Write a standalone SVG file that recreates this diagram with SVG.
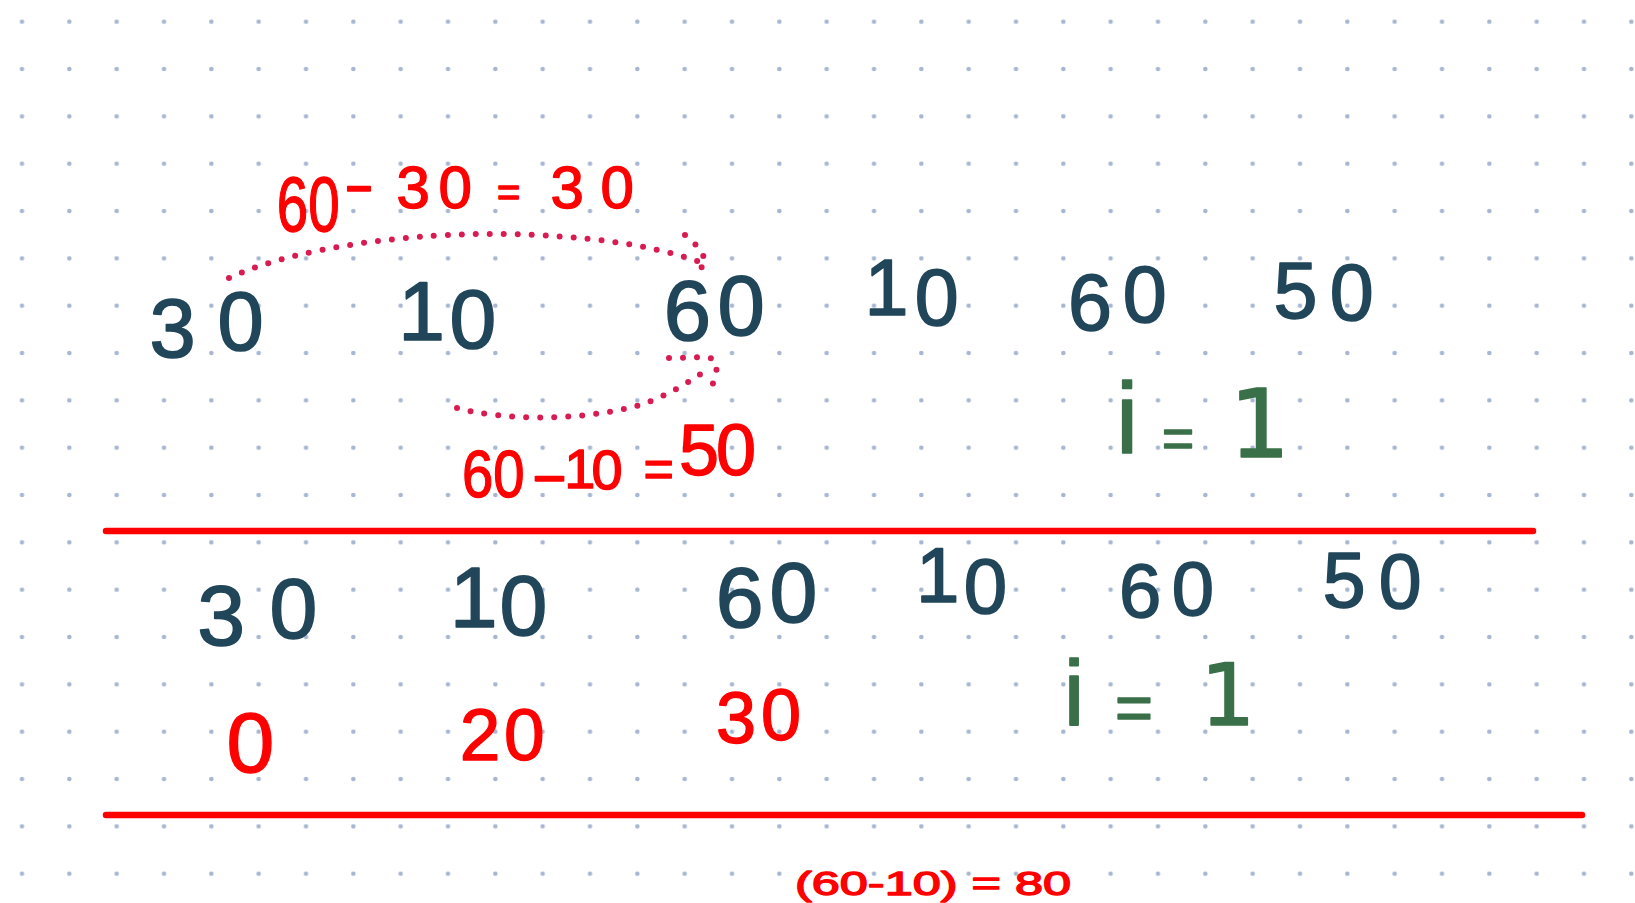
<svg xmlns="http://www.w3.org/2000/svg" width="1635" height="903" viewBox="0 0 1635 903">
<style>
text{font-family:"Liberation Sans",Arial,sans-serif;stroke-linejoin:round}
.nav{fill:#21465a;stroke:#21465a;stroke-width:1.6}
.red{fill:#ff0000;stroke:#ff0000;stroke-width:1.4}
.grn{fill:#3a7049;stroke:#3a7049;stroke-width:1.6}
.grn1{font-family:"DejaVu Sans",sans-serif}
.rule{stroke:#ff0000;stroke-width:6.5;stroke-linecap:round;fill:none}
.dots{fill:none;stroke:#d81b50;stroke-width:6;stroke-linecap:round;stroke-linejoin:round;stroke-dasharray:0 14}
</style>
<defs>
<pattern id="grid" patternUnits="userSpaceOnUse" x="0" y="0" width="47.333" height="47.333">
<circle cx="22" cy="21.7" r="2.3" fill="#a7b7d1"/>
</pattern>
</defs>
<rect width="1635" height="903" fill="#ffffff"/>
<rect width="1635" height="903" fill="url(#grid)"/>

<!-- row 1 -->
<g id="r1-30"><text class="nav" font-size="83" x="149.4 217.5" y="357 350">30</text></g>
<g id="r1-10a"><text class="nav" font-size="84" x="398.2 449.5" y="340 348">10</text></g>
<g id="r1-60a"><text class="nav" font-size="85" x="663.8 717.4" y="340 335">60</text></g>
<g id="r1-10b"><text class="nav" font-size="79" x="864.6 914.7" y="315 325">10</text></g>
<g id="r1-60b"><text class="nav" font-size="79" x="1068 1122.7" y="330 322">60</text></g>
<g id="r1-50"><text class="nav" font-size="79" x="1273.6 1329.7" y="318 320">50</text></g>
<g id="r1-i">
<text class="grn" font-size="100" x="1116" y="453">i</text>
<text class="grn" font-size="55" x="1162" y="457">=</text>
<text class="grn grn1" font-size="95" x="1229.5" y="457">1</text>
</g>

<!-- labels -->
<g id="label-top">
<text class="red" font-size="78" transform="translate(279,231) scale(0.725,1)" x="-3" y="0">60</text>
<text class="red" font-size="60" transform="translate(348,204) scale(1.5,1)" x="-2.7" y="0">-</text>
<text class="red" font-size="60" x="396.4 438.5" y="208">30</text>
<text class="red" font-size="40" x="497" y="206">=</text>
<text class="red" font-size="60" x="550.4 600.5" y="208">30</text>
</g>
<g id="label-bottom">
<text class="red" font-size="67" transform="translate(464,497) scale(0.84,1)" x="-2.5" y="0">60</text>
<text class="red" font-size="60" transform="translate(536,494) scale(1.85,1)" x="-2.7" y="0">-</text>
<text class="red" font-size="56" x="564.2 591.6" y="488 489">10</text>
<text class="red" font-size="52" x="643.5" y="487">=</text>
<text class="red" font-size="72" x="678.9 716" y="475">50</text>
</g>

<g id="connectors">
<path class="dots" d="M229,278 C300,245 420,233 500,234 C580,235 650,244 700,262"/>
<path class="dots" d="M685,235 Q703,249 706,264 L694,273"/>
<path class="dots" d="M457,408 C500,420 580,422 640,405 C670,395 690,381 705,371"/>
<path class="dots" d="M669,358 L708,357 Q719,361 716,372 L712,387"/>
</g>

<g id="rule-1"><path class="rule" d="M106,531 L1533,531"/></g>

<!-- row 2 -->
<g id="r2-30"><text class="nav" font-size="86" x="197.3 269.4" y="645 638">30</text></g>
<g id="r2-10a"><text class="nav" font-size="86" x="449.7 499.4" y="627 635">10</text></g>
<g id="r2-60a"><text class="nav" font-size="86" x="715.7 769.4" y="627 622">60</text></g>
<g id="r2-10b"><text class="nav" font-size="78" x="916 963.7" y="602 613">10</text></g>
<g id="r2-60b"><text class="nav" font-size="76" x="1119.1 1171.8" y="617 615">60</text></g>
<g id="r2-50"><text class="nav" font-size="77" x="1322.7 1378.8" y="607 608">50</text></g>
<g id="r2-i">
<text class="grn" font-size="93" x="1063.8" y="725">i</text>
<text class="grn" font-size="65" x="1115" y="730">=</text>
<text class="grn grn1" font-size="86" x="1200.5" y="725">1</text>
</g>

<!-- row 3 -->
<g id="r3-0"><text class="red" font-size="86" x="226.4" y="772">0</text></g>
<g id="r3-20"><text class="red" font-size="73" x="459.8 503.9" y="760">20</text></g>
<g id="r3-30"><text class="red" font-size="72" x="715.9 761" y="743 740">30</text></g>

<g id="rule-2"><path class="rule" d="M106,815 L1582,815"/></g>

<g id="label-cut"><text class="red" font-size="34" x="795" y="895" textLength="276" lengthAdjust="spacingAndGlyphs">(60-10) = 80</text></g>
</svg>
